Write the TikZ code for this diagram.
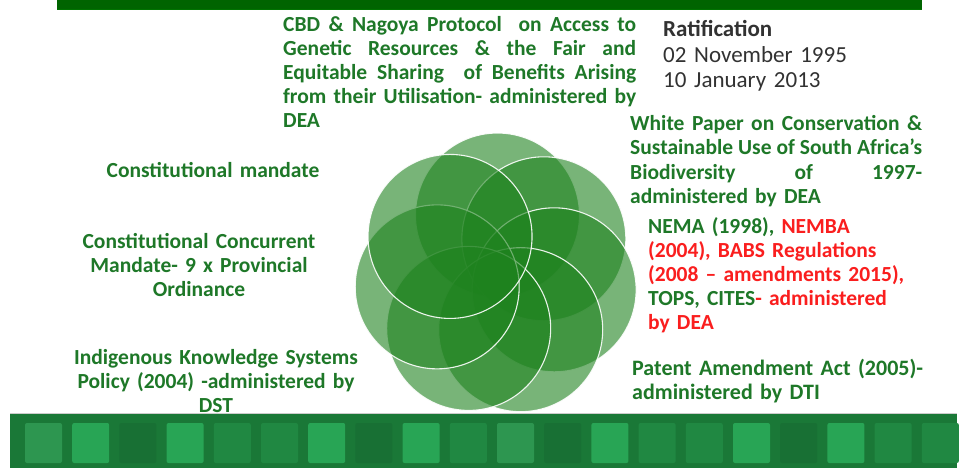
\documentclass[tikz,border=0pt]{standalone}
\usepackage{fontspec}
\setmainfont{Carlito}
\usepackage{tikz}
\usetikzlibrary{positioning}

\definecolor{leafgreen}{RGB}{30,130,30}
\definecolor{txtgreen}{RGB}{30,120,40}
\definecolor{txtred}{RGB}{250,30,30}
\definecolor{txtgray}{RGB}{50,50,50}
\definecolor{bargreen}{RGB}{0,100,0}
\definecolor{bandgreen}{RGB}{26,120,55}
\definecolor{tileA}{RGB}{40,165,85}
\definecolor{tileB}{RGB}{45,150,80}
\definecolor{tileC}{RGB}{32,136,66}
\definecolor{tileD}{RGB}{24,112,52}

% justified line of a given width
\newcommand{\jline}[2][353pt]{{\spaceskip=0pt\xspaceskip=0pt\makebox[#1][s]{#2}}}
\newcommand{\rd}[1]{\textcolor{txtred}{#1}}

\begin{document}
\begin{tikzpicture}[
			x=1pt,y=-1pt,
			txt/.style={
				font=\fontsize{21.5}{24}\selectfont\bfseries,
				text=txtgreen,
				inner sep=0pt,
				align=left,
				text width=300pt,
				anchor=base west
			},
			ctxt/.style={txt,align=center,anchor=base},
			leaf/.style={fill=leafgreen,fill opacity=0.6,draw=white,draw opacity=0.9,line width=1.1pt},
			tile/.style={rounded corners=2pt}
			]
			\useasboundingbox[fill=white] (0,0) rectangle (960,468);
			
			% top bar
			\fill[bargreen] (57,0) rectangle (922,10);
			\fill[green!45!black] (57,9) rectangle (922,10.5);
			
			% bottom band
			\fill[bandgreen] (10,413) rectangle (957,468);
			\draw[gray!40,line width=0.8pt] (10,413) -- (957,413);
			\foreach \i/\c in {0/tileB,1/tileA,2/tileD,3/tileA,4/tileC,5/tileC,6/tileA,7/tileD,8/tileA,9/tileC,
				10/tileB,11/tileD,12/tileA,13/tileC,14/tileC,15/tileA,16/tileD,17/tileA,18/tileC,19/tileC}
			\fill[tile,\c] ({25+47.2*\i},423) rectangle ++(37,40);
			
			% rosette of circles
			\foreach \a in {88.6,37.1,-14.3,-65.7,-117.1,-168.6,140}
			\filldraw[leaf] ({496+60*cos(\a)},{275-60*sin(\a)}) circle (82pt);
			
			\node[txt,text width=353pt] (cbd) at (283,32)
			{\jline{CBD \& Nagoya Protocol\ \ on Access to}\\
				\jline{Genetic Resources \& the Fair and}\\
				\jline{Equitable Sharing\ \ of Benefits Arising}\\
				\jline{from their Utilisation- administered by}\\
				DEA};
			
			\node[txt,text=txtgray,font=\fontsize{23}{25.5}\selectfont,text width=250pt] (ratif) at (663,37)
			{\textbf{Ratification}\\ 02 November 1995\\ 10 January 2013};
			
			\node[txt,text width=292pt] (white) at (630,131)
			{\jline[292pt]{White Paper on Conservation \&}\\
				\jline[292pt]{Sustainable Use of South Africa's}\\
				\jline[292pt]{Biodiversity of 1997-}\\
				administered by DEA};
			
			\node[txt] (nema) at (648,233)
			{NEMA (1998), \rd{NEMBA}\\
				\rd{(2004), BABS Regulations}\\
				\rd{(2008 -- amendments 2015),}\\
				TOPS, CITES\rd{- administered}\\
				\rd{by DEA}};
			
			\node[txt,font=\fontsize{22}{24}\selectfont\bfseries] (patent) at (632,375)
			{Patent Amendment Act (2005)-\\ administered by DTI};
			
			\node[ctxt] (mandate) at (213,177) {Constitutional mandate};
			
			\node[ctxt] (concur) at (199,248)
			{Constitutional Concurrent\\ Mandate- 9 x Provincial\\ Ordinance};
			
			\node[ctxt] (iks) at (216,364)
			{Indigenous Knowledge Systems\\ Policy (2004) -administered by\\ DST};
			
		\end{tikzpicture}
\end{document}
